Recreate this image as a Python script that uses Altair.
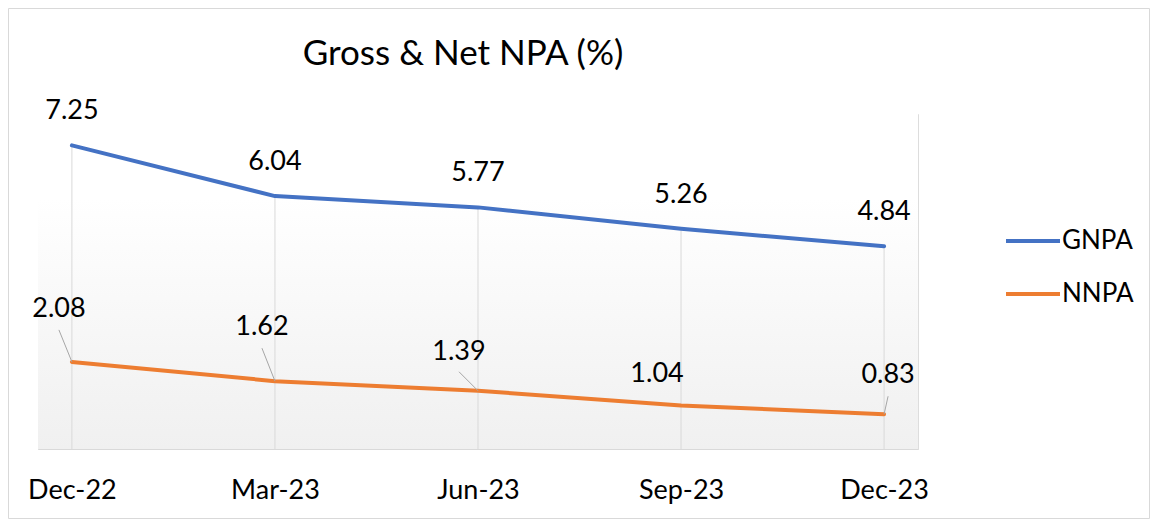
import altair as alt
import pandas as pd

# ---- data ----
quarters = ["Dec-22", "Mar-23", "Jun-23", "Sep-23", "Dec-23"]
gnpa = [7.25, 6.04, 5.77, 5.26, 4.84]
nnpa = [2.08, 1.62, 1.39, 1.04, 0.83]
series_names = ["GNPA", "NNPA"]
colors = ["#4472C4", "#ED7D31"]
title_text = "Gross & Net NPA (%)"

# ---- style: NNPA label offsets and leader lines (pixels) ----
nnpa_label_dx = [-13, -13, -19, -24, 4]
nnpa_label_dy = [-45, -46, -31, -23, -31]
leader_dx = [-13, -13, -19, None, 4]
leader_dy = [-32, -33, -19, None, -18]

W, H = 880, 335
FONT = "Lato"

rows = []
for q, g, n in zip(quarters, gnpa, nnpa):
    rows.append({"quarter": q, "series": "GNPA", "value": g})
    rows.append({"quarter": q, "series": "NNPA", "value": n})
df = pd.DataFrame(rows)

x = alt.X(
    "quarter:N",
    sort=quarters,
    scale=alt.Scale(type="point", padding=0.167),
    axis=alt.Axis(
        title=None, ticks=False, grid=False, domainColor="#d9d9d9", domainWidth=1,
        labelFont=FONT, labelFontSize=27, labelColor="black", labelPadding=28,
        labelAngle=0, zindex=1,
    ),
)
y = alt.Y("value:Q", scale=alt.Scale(domain=[0, 8], nice=False, zero=True), axis=None)

base = alt.Chart(df)

gradient = alt.LinearGradient(
    gradient="linear",
    stops=[alt.GradientStop(color="#ffffff", offset=0),
           alt.GradientStop(color="#ffffff", offset=0.3),
           alt.GradientStop(color="#f0f0f0", offset=1)],
    x1=0, x2=0, y1=0, y2=1,
)
bg = alt.Chart(alt.Data(values=[{}])).mark_rect(fill=gradient).encode(
    x=alt.value(0), x2=alt.value(W), y=alt.value(-24), y2=alt.value(H)
)

border = alt.Chart(alt.Data(values=[{}])).mark_rect(
    fillOpacity=0, stroke="#d9d9d9", strokeWidth=1
).encode(
    x=alt.value(-29.5), x2=alt.value(W + 231.5), y=alt.value(-105.5), y2=alt.value(H + 69.5)
)

title = alt.Chart(alt.Data(values=[{"t": title_text}])).mark_text(
    font=FONT, fontSize=35, color="black", baseline="alphabetic", align="center"
).encode(x=alt.value(425), y=alt.value(-49), text="t:N")

drops = base.transform_filter(alt.datum.series == "GNPA").mark_rule(
    color="#d9d9d9", strokeWidth=1
).encode(x=x, y=y, y2=alt.datum(0))

lines = base.mark_line(strokeWidth=4, strokeCap="round", strokeJoin="round").encode(
    x=x, y=y,
    color=alt.Color(
        "series:N",
        scale=alt.Scale(domain=series_names, range=colors),
        legend=alt.Legend(
            title=None, orient="none", legendX=966, legendY=98,
            symbolType="stroke", symbolSize=2916, symbolStrokeWidth=4,
            labelFont=FONT, labelFontSize=26, labelColor="black", labelOffset=0,
            rowPadding=11, padding=0,
        ),
    ),
)

g_labels = base.transform_filter(alt.datum.series == "GNPA").mark_text(
    dy=-26, baseline="alphabetic", font=FONT, fontSize=27, color="black"
).encode(x=x, y=y, text=alt.Text("value:Q", format=".2f"))

layers = [bg, border, title, drops, lines, g_labels]

for i, q in enumerate(quarters):
    sub = base.transform_filter((alt.datum.series == "NNPA") & (alt.datum.quarter == q))
    layers.append(
        sub.mark_text(
            dx=nnpa_label_dx[i], dy=nnpa_label_dy[i], baseline="alphabetic",
            font=FONT, fontSize=27, color="black"
        ).encode(x=x, y=y, text=alt.Text("value:Q", format=".2f"))
    )
    if leader_dx[i] is not None:
        layers.append(
            sub.mark_rule(
                color="#a6a6a6", strokeWidth=1,
                x2Offset=leader_dx[i], y2Offset=leader_dy[i]
            ).encode(x=x, y=y, x2="quarter:N", y2="value:Q")
        )

chart = alt.layer(*layers).properties(
    width=W, height=H,
    padding={"left": 30, "top": 106, "right": 232, "bottom": 70},
    autosize=alt.AutoSizeParams(type="none"),
).configure_view(strokeWidth=0).configure(background="white")

chart.save("out.html", embed_options={"renderer": "svg", "actions": False})
